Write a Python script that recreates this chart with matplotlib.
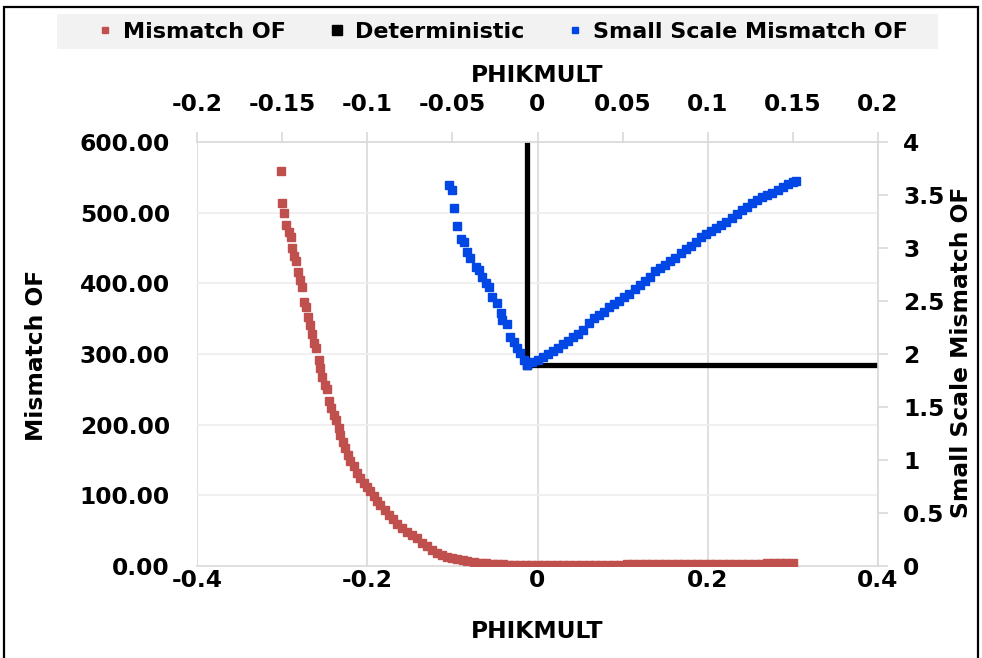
import matplotlib
matplotlib.use("Agg")
import matplotlib.pyplot as plt
from matplotlib.lines import Line2D
from matplotlib.patches import Rectangle

# Mismatch OF (bottom x axis, left y axis)
red_x = [-0.301, -0.300, -0.298, -0.295, -0.292, -0.290, -0.288, -0.2855, -0.284, -0.2817,
         -0.2793, -0.277, -0.2746, -0.2723, -0.270, -0.2676, -0.2652, -0.262, -0.2597, -0.257,
         -0.255, -0.2526, -0.250, -0.2471, -0.2448, -0.242, -0.2393, -0.2362, -0.2335, -0.2315,
         -0.2288, -0.2256, -0.2229, -0.2197, -0.2159, -0.2119, -0.208, -0.204, -0.2001, -0.1962,
         -0.1924, -0.1885, -0.1845, -0.1796, -0.1747, -0.1698, -0.1649, -0.159, -0.1531, -0.1473,
         -0.1414, -0.1355, -0.1296, -0.1238, -0.1179, -0.112, -0.1061, -0.100, -0.0944, -0.088,
         -0.0826, -0.075, -0.067, -0.060, -0.052, -0.0474, -0.040, -0.034, -0.0278, -0.020,
         -0.014, -0.0082, 0.000, 0.0075, 0.015, 0.0225, 0.030, 0.0375, 0.045, 0.0525,
         0.060, 0.0675, 0.075, 0.0825, 0.090, 0.0975, 0.105, 0.1125, 0.120, 0.1275,
         0.135, 0.1425, 0.150, 0.1575, 0.165, 0.1725, 0.180, 0.1875, 0.195, 0.2025,
         0.210, 0.2175, 0.225, 0.2325, 0.240, 0.2475, 0.255, 0.2625, 0.270, 0.2775,
         0.285, 0.2925, 0.300]
red_y = [559, 513, 499, 482, 473, 465, 450, 438, 431, 416,
         405, 395, 374, 367, 353, 341, 329, 316, 308, 292,
         280, 268, 256, 251, 234, 223, 214, 207, 195, 185,
         176, 167, 157, 148, 141, 132, 125, 118, 112, 106,
         99, 92, 86, 79, 72, 66, 60, 54, 48.5, 44,
         39, 33, 28, 23, 19, 16, 13, 11.5, 10.3, 9,
         7.5, 6, 4.7, 3.8, 3.1, 2.8, 2.4, 2.0, 1.8, 1.6,
         1.5, 1.4, 1.4, 1.4, 1.5, 1.5, 1.6, 1.6, 1.7, 1.7,
         1.8, 1.8, 2.0, 2.0, 2.1, 2.1, 2.2, 2.2, 2.3, 2.4,
         2.5, 2.5, 2.6, 2.6, 2.7, 2.7, 2.8, 2.9, 3.1, 3.1,
         3.2, 3.2, 3.3, 3.3, 3.4, 3.4, 3.5, 3.5, 3.6, 3.6,
         3.7, 3.7, 3.8]

# Small Scale Mismatch OF (top x axis, right y axis)
blue_x = [-0.0521, -0.0501, -0.0488, -0.0472, -0.0447, -0.0433, -0.0413, -0.0398, -0.0364, -0.0345,
          -0.0325, -0.030, -0.0286, -0.0266, -0.0237, -0.0217, -0.0207, -0.0182, -0.0159, -0.0139,
          -0.0119, -0.010, -0.008, -0.006, -0.003, 0.000, 0.003, 0.006, 0.009, 0.012,
          0.015, 0.018, 0.021, 0.024, 0.027, 0.030, 0.033, 0.036, 0.039, 0.042,
          0.045, 0.048, 0.051, 0.054, 0.057, 0.060, 0.063, 0.066, 0.069, 0.072,
          0.075, 0.078, 0.081, 0.084, 0.087, 0.090, 0.093, 0.096, 0.099, 0.102,
          0.105, 0.108, 0.111, 0.114, 0.117, 0.120, 0.123, 0.126, 0.129, 0.132,
          0.135, 0.138, 0.141, 0.144, 0.147, 0.150, 0.152]
blue_y = [3.594, 3.547, 3.374, 3.208, 3.082, 3.06, 2.965, 2.903, 2.824, 2.792,
          2.73, 2.667, 2.635, 2.541, 2.478, 2.384, 2.321, 2.283, 2.163, 2.116,
          2.054, 2.006, 1.943, 1.896, 1.92, 1.94, 1.97, 2.00, 2.03, 2.06,
          2.09, 2.12, 2.16, 2.19, 2.23, 2.29, 2.34, 2.37, 2.40, 2.44,
          2.47, 2.50, 2.54, 2.57, 2.61, 2.65, 2.69, 2.73, 2.78, 2.81,
          2.84, 2.88, 2.91, 2.95, 2.99, 3.02, 3.06, 3.10, 3.13, 3.16,
          3.19, 3.22, 3.25, 3.28, 3.32, 3.36, 3.39, 3.42, 3.45, 3.48,
          3.50, 3.52, 3.55, 3.58, 3.60, 3.62, 3.63]

# Deterministic case
det_x = -0.006
det_y = 1.90

bottom_ticks = [-0.4, -0.2, 0, 0.2, 0.4]
bottom_labels = ["-0.4", "-0.2", "0", "0.2", "0.4"]
top_ticks = [-0.2, -0.15, -0.1, -0.05, 0, 0.05, 0.1, 0.15, 0.2]
top_labels = ["-0.2", "-0.15", "-0.1", "-0.05", "0", "0.05", "0.1", "0.15", "0.2"]
left_ticks = [0, 100, 200, 300, 400, 500, 600]
left_labels = ["0.00", "100.00", "200.00", "300.00", "400.00", "500.00", "600.00"]
right_ticks = [0, 0.5, 1, 1.5, 2, 2.5, 3, 3.5, 4]
right_labels = ["0", "0.5", "1", "1.5", "2", "2.5", "3", "3.5", "4"]

red = "#c0504d"
blue = "#0047e6"
grey = "#d9d9d9"

plt.rcParams["font.family"] = "DejaVu Sans"
plt.rcParams["font.weight"] = "bold"
fs = 16.8

fig = plt.figure(figsize=(9.82, 6.58), dpi=100)
pos = [197 / 982, 1 - 566 / 658, 681 / 982, 424 / 658]
ax = fig.add_axes(pos)
ax_b = fig.add_axes(pos, facecolor="none")

# primary axes
ax.set_xlim(-0.4, 0.4)
ax.set_ylim(0, 600)
ax.set_xticks(bottom_ticks)
ax.set_xticklabels(bottom_labels, fontsize=fs, fontweight="bold")
ax.set_yticks(left_ticks)
ax.set_yticklabels(left_labels, fontsize=fs, fontweight="bold")
ax.tick_params(axis="x", length=0, pad=2.5)
ax.tick_params(axis="y", length=0, pad=19.5)
for x in bottom_ticks:
    ax.axvline(x, color=grey, lw=1.2, zorder=0)
for y in left_ticks[1:]:
    ax.axhline(y, color="#eeeeee", lw=1.2, zorder=0)
for s in ["left", "right", "top"]:
    ax.spines[s].set_visible(False)
ax.spines["bottom"].set_color(grey)
ax.spines["bottom"].set_linewidth(1.2)
ax.plot(red_x, red_y, ls="none", marker="s", ms=6.3, color=red, mec=red, zorder=3)

# secondary axes
ax_b.set_xlim(-0.2, 0.2)
ax_b.set_ylim(0, 4)
ax_b.xaxis.tick_top()
ax_b.yaxis.tick_right()
ax_b.set_xticks(top_ticks)
ax_b.set_xticklabels(top_labels, fontsize=fs, fontweight="bold")
ax_b.set_yticks(right_ticks)
ax_b.set_yticklabels(right_labels, fontsize=fs, fontweight="bold")
ax_b.tick_params(axis="x", length=7, color=grey, width=1.2, pad=11.5)
ax_b.tick_params(axis="y", length=7, color=grey, width=1.2, pad=11)
for s in ["left", "bottom"]:
    ax_b.spines[s].set_visible(False)
for s in ["top", "right"]:
    ax_b.spines[s].set_color(grey)
    ax_b.spines[s].set_linewidth(1.2)

ax_b.plot([det_x, det_x], [det_y, 4], color="black", lw=3.8, solid_capstyle="butt", zorder=2)
ax_b.plot([det_x, 0.2], [det_y, det_y], color="black", lw=3.8, solid_capstyle="butt", zorder=2)
ax_b.plot([det_x], [det_y], ls="none", marker="s", ms=6, color="black", zorder=2)
ax_b.plot(blue_x, blue_y, ls="none", marker="s", ms=5.3, color=blue, mec=blue, zorder=3)

# axis titles
fig.text(537 / 982, 1 - 632 / 658, "PHIKMULT", ha="center", va="center", fontsize=fs, fontweight="bold")
fig.text(537 / 982, 1 - 75 / 658, "PHIKMULT", ha="center", va="center", fontsize=fs, fontweight="bold")
fig.text(37 / 982, 1 - 355 / 658, "Mismatch OF", ha="center", va="center", rotation=90,
         fontsize=fs, fontweight="bold")
fig.text(962 / 982, 1 - 352 / 658, "Small Scale Mismatch OF", ha="center", va="center", rotation=90,
         fontsize=fs, fontweight="bold")

# legend on a light grey band
fig.patches.append(Rectangle((57 / 982, 1 - 49 / 658), 881 / 982, 35 / 658, transform=fig.transFigure,
                             facecolor="#f2f2f2", edgecolor="none", zorder=0))
handles = [
    Line2D([], [], ls="none", marker="s", ms=5, color=red),
    Line2D([], [], ls="none", marker="s", ms=6.5, color="black"),
    Line2D([], [], ls="none", marker="s", ms=4.5, color=blue),
]
leg = fig.legend(handles, ["Mismatch OF", "Deterministic", "Small Scale Mismatch OF"],
                 loc="center", bbox_to_anchor=(503 / 982, 1 - 32 / 658), ncol=3, frameon=False,
                 prop={"size": 16, "weight": "bold"}, handlelength=0.6, handletextpad=0.5,
                 columnspacing=2.0, borderpad=0.0)

# outer frame
fig.patches.append(Rectangle((4 / 982, -0.01), 974 / 982, 1.01 - 7 / 658, transform=fig.transFigure,
                             fill=False, edgecolor="black", lw=1.6))

fig.savefig("out.png", dpi=100)
